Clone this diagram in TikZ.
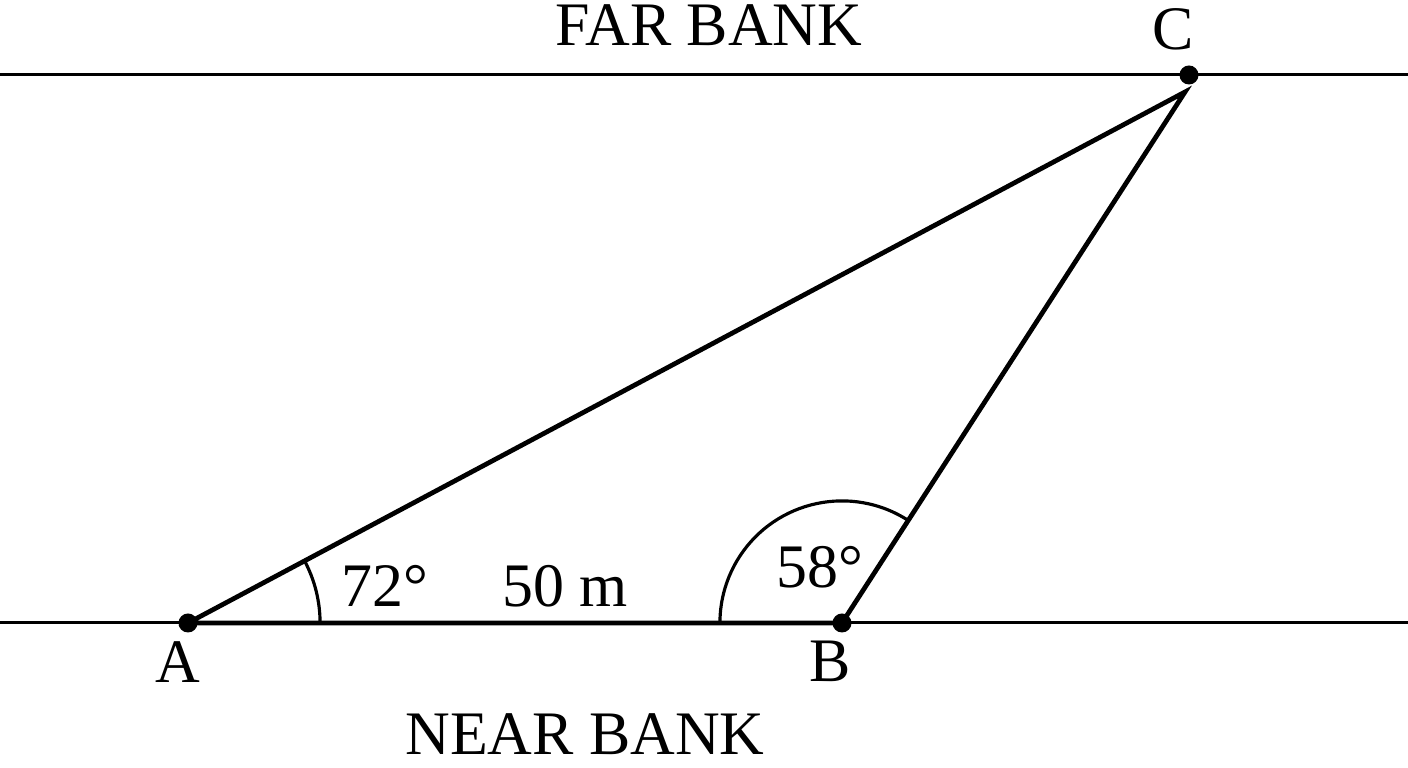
\documentclass[tikz,border=0pt]{standalone}
\usepackage{fontspec}
\setmainfont{Liberation Serif}
\usetikzlibrary{positioning, calc}

\begin{document}
\begin{tikzpicture}[x=0.01cm, y=0.01cm,
    bank/.style={line width=0.85pt},
    side/.style={line width=1.35pt},
    anglearc/.style={line width=0.9pt},
    pt/.style={circle, fill, inner sep=0pt, minimum size=0.19cm},
    lbl/.style={font=\fontsize{17.6}{21}\selectfont, anchor=base, inner sep=0pt},
  ]
  \useasboundingbox (0,0) rectangle (1408,768);

  % river banks
  \coordinate (farL) at (0,693);
  \coordinate (farR) at (1408,693);
  \coordinate (nearL) at (0,145);
  \coordinate (nearR) at (1408,145);
  \draw[bank] (farL) -- (farR);
  \draw[bank] (nearL) -- (nearR);

  % survey points
  \node[pt] (A) at (188,145) {};
  \node[pt] (B) at (842,145) {};
  \node[pt] (C) at (1189,693) {};
  \coordinate (Ctip) at (1185,676);

  % triangle
  \draw[side] (A.center) -- (B.center) -- (Ctip) -- cycle;

  % angle marks
  \draw[anglearc] ([shift={(0:1.32cm)}]A.center) arc[start angle=0, end angle=28, radius=1.32cm];
  \draw[anglearc] ([shift={(57.1:1.22cm)}]B.center) arc[start angle=57.1, end angle=180, radius=1.22cm];

  % labels
  \node[lbl] (far) at (709,722) {FAR BANK};
  \node[lbl] (near) at (585,13) {NEAR BANK};
  \node[lbl] (labC) at (1173,718) {C};
  \node[lbl] (labA) at (178,85) {A};
  \node[lbl] (labB) at (830,86) {B};
  \node[lbl] (angA) at (385,161) {72°};
  \node[lbl] (dist) at (565,161) {50 m};
  \node[lbl] (angB) at (820,180) {58°};
\end{tikzpicture}
\end{document}
